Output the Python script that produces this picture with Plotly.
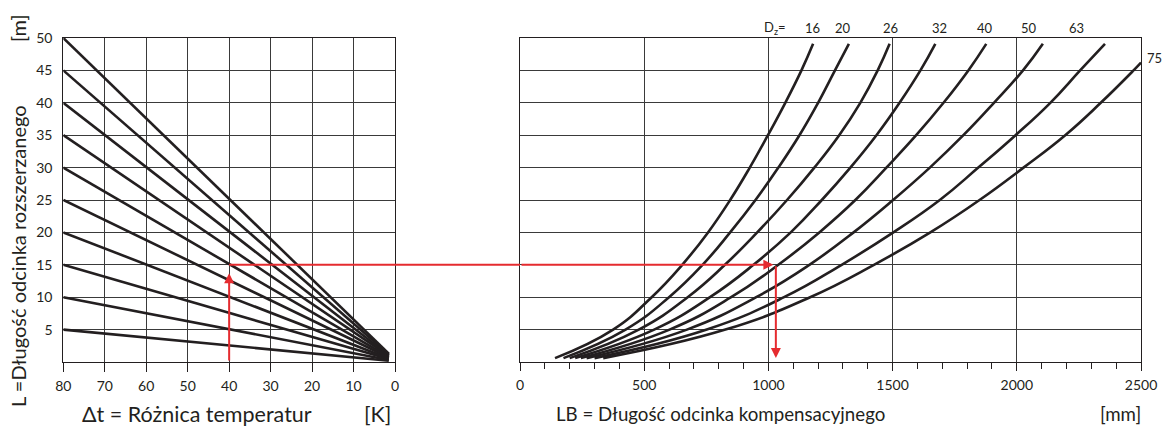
import plotly.graph_objects as go

# left chart: L lines, start at dt=80, converge near dt~1.5
dt_start = 80
dt_end = 1.5
L_values = [5, 10, 15, 20, 25, 30, 35, 40, 45, 50]
L_end_values = [0.2, 0.3, 0.45, 0.55, 0.7, 0.8, 0.95, 1.05, 1.2, 1.3]
dt_ticks = [80, 70, 60, 50, 40, 30, 20, 10, 0]

# right chart: LB curves per pipe diameter Dz (read at fixed L levels)
dz_names = ["16", "20", "26", "32", "40", "50", "63", "75"]
L_levels = [0.6, 5, 10, 15, 20, 25, 30, 35, 40, 45, 49.1]
L_levels_75 = [0.6, 5, 10, 15, 20, 25, 30, 35, 40, 45, 46.2]
lb_16 = [141, 375, 530, 653, 757, 846, 925, 998, 1068, 1133, 1180]
lb_20 = [175, 425, 600, 735, 846, 948, 1040, 1125, 1200, 1268, 1324]
lb_26 = [200, 478, 675, 825, 955, 1075, 1185, 1285, 1370, 1440, 1488]
lb_32 = [222, 540, 765, 940, 1090, 1215, 1330, 1435, 1528, 1612, 1672]
lb_40 = [245, 602, 850, 1040, 1205, 1350, 1475, 1595, 1705, 1805, 1877]
lb_50 = [268, 672, 951, 1165, 1343, 1502, 1650, 1785, 1908, 2025, 2105]
lb_63 = [300, 752, 1063, 1295, 1503, 1690, 1845, 1995, 2135, 2255, 2355]
lb_75 = [335, 827, 1168, 1425, 1652, 1850, 2027, 2195, 2338, 2470, 2500]
# label positions above the curves (x in mm, y in m)
dz_label_x = [1179, 1299, 1492, 1689, 1870, 2051, 2240]
dz_label_y = 51.5
dz75_label = (2554, 46.9)

# example reading (red arrows)
ex_dt = 40
ex_L = 15
ex_LB = 1030

INK = "#231f20"
RED = "#e52b2f"
GRID = "#3a3a3a"
FONT = "Lato"

W, H = 1164, 428


def px(X, Y):
    # window pixel -> paper coords
    return X / W, 1 - Y / H


left_dom = [px(63.3, 0)[0], px(395, 0)[0]]
right_dom = [px(520, 0)[0], px(1141, 0)[0]]
y_dom = [px(0, 362)[1], px(0, 38)[1]]


def right_paper(xv, yv):
    xp = right_dom[0] + xv / 2500 * (right_dom[1] - right_dom[0])
    yp = y_dom[0] + yv / 50 * (y_dom[1] - y_dom[0])
    return xp, yp


fig = go.Figure()

for L, e in zip(L_values, L_end_values):
    fig.add_trace(go.Scatter(x=[dt_start, dt_end], y=[L, e], mode="lines",
                             line=dict(color=INK, width=2.6),
                             xaxis="x", yaxis="y", showlegend=False, hoverinfo="skip"))

curves = [lb_16, lb_20, lb_26, lb_32, lb_40, lb_50, lb_63, lb_75]
for name, lb in zip(dz_names, curves):
    ys = L_levels_75 if name == "75" else L_levels
    fig.add_trace(go.Scatter(x=lb, y=ys, mode="lines", name=name,
                             line=dict(color=INK, width=2.6, shape="spline", smoothing=1.3),
                             xaxis="x2", yaxis="y2", showlegend=False, hoverinfo="skip"))

axis_common = dict(showline=True, linecolor=INK, linewidth=1, mirror=True,
                   showgrid=True, gridcolor=GRID, gridwidth=1, zeroline=False,
                   automargin=False,
                   tickfont=dict(family=FONT, size=14, color=INK))

fig.update_layout(
    width=W, height=H,
    margin=dict(l=0, r=0, t=0, b=0, pad=0, autoexpand=False),
    paper_bgcolor="white", plot_bgcolor="white",
    xaxis=dict(domain=left_dom, range=[80, 0], tickvals=dt_ticks, ticks="outside",
               ticklen=9, tickcolor=INK, anchor="y", ticklabelstandoff=2, **axis_common),
    yaxis=dict(domain=y_dom, range=[0, 50], tickvals=L_values, ticks="", anchor="x",
               ticklabelstandoff=7, **axis_common),
    xaxis2=dict(domain=right_dom, range=[0, 2500], tickvals=[0, 500, 1000, 1500, 2000, 2500],
                ticks="outside", ticklen=8, tickcolor=INK, anchor="y2",
                minor=dict(dtick=100, ticks="outside", ticklen=6, tickcolor=INK, showgrid=False),
                ticklabelstandoff=2, **axis_common),
    yaxis2=dict(domain=y_dom, range=[0, 50], dtick=5, showticklabels=False, ticks="",
                anchor="x2", **axis_common),
)

# red reading path
ann = []
ann.append(dict(x=ex_dt, y=ex_L - 1.3, ax=ex_dt, ay=0, xref="x", yref="y", axref="x", ayref="y",
                showarrow=True, arrowhead=2, arrowsize=1, arrowwidth=2, arrowcolor=RED, text=""))
fig.add_trace(go.Scatter(x=[ex_dt, 0], y=[ex_L, ex_L], mode="lines", line=dict(color=RED, width=2),
                         xaxis="x", yaxis="y", showlegend=False, hoverinfo="skip", cliponaxis=False))
fig.add_shape(type="line", xref="paper", yref="y", x0=left_dom[1], x1=right_dom[0],
              y0=ex_L, y1=ex_L, line=dict(color=RED, width=2))
ann.append(dict(x=ex_LB - 10, y=ex_L, ax=0, ay=ex_L, xref="x2", yref="y2", axref="x2", ayref="y2",
                showarrow=True, arrowhead=2, arrowsize=1, arrowwidth=2, arrowcolor=RED, text=""))
ann.append(dict(x=ex_LB, y=0.6, ax=ex_LB, ay=ex_L, xref="x2", yref="y2", axref="x2", ayref="y2",
                showarrow=True, arrowhead=2, arrowsize=1, arrowwidth=2, arrowcolor=RED, text=""))

lab_font = dict(family=FONT, size=13, color=INK)
centered = dict(xref="paper", yref="paper", showarrow=False, xanchor="center", yanchor="middle")
xp, yp = right_paper(1026, dz_label_y)
ann.append(dict(x=xp, y=yp, text="D<sub>z</sub>=", font=lab_font, **centered))
for name, lx in zip(dz_names[:-1], dz_label_x):
    xp, yp = right_paper(lx, dz_label_y)
    ann.append(dict(x=xp, y=yp, text=name, font=lab_font, **centered))
xp, yp = right_paper(*dz75_label)
ann.append(dict(x=xp, y=yp, text=dz_names[-1], font=lab_font, **centered))

title_font = dict(family=FONT, size=20, color=INK)
left_font = dict(family=FONT, size=21.5, color=INK)
right_font = dict(family=FONT, size=18.7, color=INK)
titles = [
    (18, 256, "L =Długość odcinka rozszerzanego", -90, title_font),
    (18, 28, "[m]", -90, title_font),
    (197, 414, "\u0394t = Różnica temperatur", 0, left_font),
    (377, 414, "[K]", 0, left_font),
    (720, 414, "LB = Długość odcinka kompensacyjnego", 0, right_font),
    (1120, 414, "[mm]", 0, right_font),
]
for X, Y, t, ang, f in titles:
    xp, yp = px(X, Y)
    ann.append(dict(x=xp, y=yp, text=t, textangle=ang, font=f, **centered))
fig.update_layout(annotations=ann)

fig.write_html("out.html", config={"displayModeBar": False},
               post_script="document.body.style.margin='0';")
